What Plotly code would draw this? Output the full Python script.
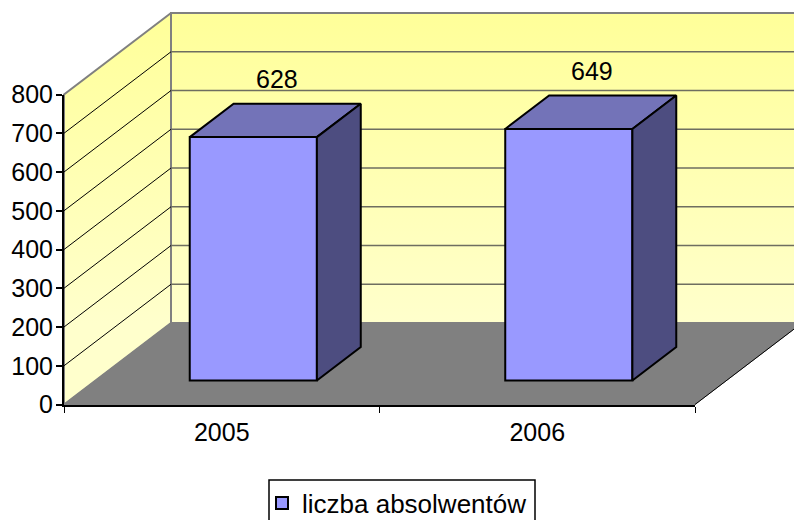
import plotly.graph_objects as go

categories = ["2005", "2006"]
values = [628, 649]
value_ticks = [0, 100, 200, 300, 400, 500, 600, 700, 800]
series_name = "liczba absolwentów"

FONT = "Liberation Sans, Arial, sans-serif"
FS = 25
W, H = 794, 520
L, R, T, B = 64, 695, 94.5, 404.5      # pixel box of the front axes
X_MAX, Y_MAX = len(categories), value_ticks[-1]
PX_X = (R - L) / X_MAX                 # pixels per category
PX_Y = (B - T) / Y_MAX                 # pixels per unit of value
# oblique projection: one unit of depth, expressed in axis units
DX, DY = 107 / PX_X, 81.5 / PX_Y
BAR_W = 0.403
FRONT, BACK = 0.295, 0.705
CANVAS_X = [-L / PX_X, (W - L) / PX_X]
CANVAS_Y = [(B - H) / PX_Y, B / PX_Y]


def pr(x, y, d=0.0):
    return x + d * DX, y + d * DY


def poly(points):
    pts = [pr(*p) for p in points] + [pr(*points[0])]
    return [p[0] for p in pts], [p[1] for p in pts]


grad = dict(type="vertical", start=pr(0, 0, 1)[1], stop=pr(0, Y_MAX, 1)[1],
            colorscale=[[0, "#FFFFCC"], [1, "#FFFF99"]])

fig = go.Figure()


def face(points, axes="", **kw):
    x, y = poly(points)
    fig.add_trace(go.Scatter(x=x, y=y, mode="lines", fill="toself", showlegend=False,
                             hoverinfo="skip", xaxis="x" + axes, yaxis="y" + axes, **kw))


# back wall (runs past the window edge)
face([(0, 0, 1), (X_MAX, 0, 1), (X_MAX, Y_MAX, 1), (0, Y_MAX, 1)],
     fillgradient=grad, line=dict(color="#808080", width=2))
# side wall
face([(0, 0, 0), (0, 0, 1), (0, Y_MAX, 1), (0, Y_MAX, 0)],
     fillgradient=grad, line=dict(color="#808080", width=2))
# floor
face([(0, 0, 0), (X_MAX, 0, 0), (X_MAX, 0, 1), (0, 0, 1)],
     fillcolor="#808080", line=dict(color="#808080", width=1))

# gridlines
gx_back, gy_back, gx_side, gy_side = [], [], [], []
for v in value_ticks[1:-1]:
    a, b, c = pr(0, v, 0), pr(0, v, 1), pr(X_MAX, v, 1)
    gx_side += [a[0], b[0], None]
    gy_side += [a[1], b[1], None]
    gx_back += [b[0], c[0], None]
    gy_back += [b[1], c[1], None]
fig.add_trace(go.Scatter(x=gx_back, y=gy_back, mode="lines", showlegend=False, hoverinfo="skip",
                         line=dict(color="#6E6E60", width=1.5)))
fig.add_trace(go.Scatter(x=gx_side, y=gy_side, mode="lines", showlegend=False, hoverinfo="skip",
                         line=dict(color="#000000", width=1)))
# right floor edge
ex, ey = poly([(X_MAX, 0, 0), (X_MAX, 0, 1)])
fig.add_trace(go.Scatter(x=ex[:2], y=ey[:2], mode="lines", showlegend=False, hoverinfo="skip",
                         line=dict(color="#000000", width=1)))

# bars on an overlaid subplot so they sit above the walls
centres = [i + 0.5 for i in range(len(categories))]
fx = [pr(c, 0, FRONT)[0] for c in centres]
base = pr(0, 0, FRONT)[1]
fig.add_trace(go.Bar(x=fx, y=values, base=[base] * len(values), width=BAR_W, name=series_name,
                     marker=dict(color="#9999FF", line=dict(color="#000000", width=2)),
                     xaxis="x2", yaxis="y2", showlegend=True))
for c, v in zip(centres, values):
    l, r = c - BAR_W / 2, c + BAR_W / 2
    face([(l, v, FRONT), (r, v, FRONT), (r, v, BACK), (l, v, BACK)], axes="2",
         fillcolor="#7373B8", line=dict(color="#000000", width=2))
    face([(r, 0, FRONT), (r, 0, BACK), (r, v, BACK), (r, v, FRONT)], axes="2",
         fillcolor="#4D4D80", line=dict(color="#000000", width=2))

for c, v in zip(centres, values):
    lx, ly = pr(c, v, BACK)
    fig.add_annotation(x=lx - 0.065, y=ly, text=str(v), showarrow=False, xref="x2", yref="y2",
                       yshift=25, font=dict(family=FONT, size=FS, color="#000000"))

# the visible front axes
fig.add_trace(go.Scatter(x=[0, X_MAX], y=[0, 0], mode="lines", line=dict(width=0),
                         showlegend=False, hoverinfo="skip", xaxis="x3", yaxis="y3"))

# legend frame (its lower edge falls just past the window)
fig.add_shape(type="rect", xref="paper", yref="paper", x0=269 / W, x1=535 / W,
              y0=1 - 526 / H, y1=1 - 480 / H, line=dict(color="#000000", width=1.5),
              fillcolor="#FFFFFF", layer="below")

fig.update_layout(
    width=W, height=H, autosize=False,
    margin=dict(l=0, r=0, t=0, b=0, pad=0, autoexpand=False),
    paper_bgcolor="#FFFFFF", plot_bgcolor="rgba(0,0,0,0)",
    font=dict(family=FONT, size=FS, color="#000000"),
    barmode="overlay",
    xaxis=dict(range=CANVAS_X, visible=False, automargin=False, fixedrange=True),
    yaxis=dict(range=CANVAS_Y, visible=False, automargin=False, fixedrange=True),
    xaxis2=dict(range=CANVAS_X, overlaying="x", visible=False, automargin=False),
    yaxis2=dict(range=CANVAS_Y, overlaying="y", visible=False, automargin=False),
    xaxis3=dict(domain=[L / W, R / W], anchor="y3", range=[0, X_MAX], automargin=False,
                tickmode="array", tickvals=centres, ticktext=categories,
                ticks="", showgrid=False, zeroline=False, showline=True, linecolor="#000000",
                linewidth=2, ticklabelstandoff=4,
                minor=dict(tickmode="array", tickvals=list(range(X_MAX + 1)), ticks="outside",
                           ticklen=6, tickwidth=1, tickcolor="#000000", showgrid=False)),
    yaxis3=dict(domain=[1 - B / H, 1 - T / H], anchor="x3", range=[0, Y_MAX], automargin=False,
                tickmode="array", tickvals=value_ticks, ticks="outside",
                ticklen=6, tickwidth=1.5, tickcolor="#000000", showgrid=False, zeroline=False,
                showline=True, linecolor="#000000", linewidth=2, ticklabelstandoff=-2),
    showlegend=True,
    legend=dict(x=262 / W, y=1 - 503 / H, xanchor="left", yanchor="middle",
                bgcolor="rgba(0,0,0,0)", borderwidth=0,
                font=dict(family=FONT, size=26)),
)
fig.write_html("out.html", config=dict(displayModeBar=False),
               post_script="document.documentElement.style.margin='0';document.body.style.margin='0';")
